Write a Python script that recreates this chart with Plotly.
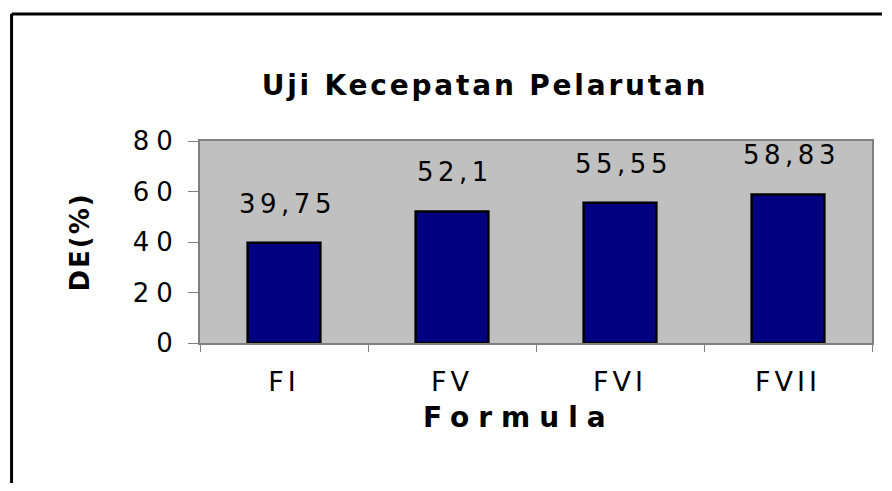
import plotly.graph_objects as go

categories = ["FI", "FV", "FVI", "FVII"]
de_values = [39.75, 52.1, 55.55, 58.83]
value_labels = ["39,75", "52,1", "55,55", "58,83"]
y_ticks = [0, 20, 40, 60, 80]
y_tick_labels = ["0", "20", "40", "60", "80"]

FONT = "DejaVu Sans, Liberation Sans, Arial, sans-serif"

# the page body has an 8px default margin; figure coordinates are laid out for it
W, H = 876, 475
PL, PR, PT, PB = 192, 866, 133, 335
pw, ph = PR - PL, PB - PT


def spaced(txt, px):
    return f'<span style="letter-spacing:{px}px">{txt}</span>'


fig = go.Figure()
fig.add_trace(go.Bar(
    x=categories,
    y=de_values,
    marker=dict(color="#000080", line=dict(color="#000000", width=2.5)),
    hoverinfo="skip",
))

for cat, val, lab in zip(categories, de_values, value_labels):
    fig.add_annotation(
        x=cat, y=val, xref="x", yref="y",
        text=spaced(lab, 4.5), showarrow=False,
        yanchor="bottom", yshift=22, xshift=3,
        font=dict(family=FONT, size=26, color="#000000"),
    )

# x-axis title, placed as in the original (slightly left of centre)
fig.add_annotation(
    x=(512 - PL) / pw, y=(PB - 409) / ph, xref="paper", yref="paper",
    text="<b>" + spaced("Formula", 9) + "</b>", showarrow=False,
    xanchor="center", yanchor="middle",
    font=dict(family=FONT, size=28, color="#000000"),
)

fig.update_layout(
    width=W, height=H,
    margin=dict(l=PL, r=W - PR, t=PT, b=H - PB),
    paper_bgcolor="#ffffff",
    plot_bgcolor="#c0c0c0",
    showlegend=False,
    bargap=0.567,
    title=dict(
        text="<b>" + spaced("Uji Kecepatan Pelarutan", 2.8) + "</b>",
        x=477 / W, xref="container", xanchor="center",
        y=1 - 77 / H, yref="container", yanchor="middle",
        font=dict(family=FONT, size=28, color="#000000"),
    ),
    xaxis=dict(
        type="category",
        categoryorder="array", categoryarray=categories,
        tickmode="array", tickvals=categories,
        ticktext=[spaced(c, 4) for c in categories],
        tickson="boundaries",
        ticks="outside", ticklen=7, tickcolor="#808080", tickwidth=1,
        showline=True, linecolor="#808080", linewidth=2, mirror=True,
        showgrid=False,
        ticklabelstandoff=14,
        tickfont=dict(family=FONT, size=27, color="#000000"),
    ),
    yaxis=dict(
        range=[0, 80],
        tickmode="array", tickvals=y_ticks,
        ticktext=[spaced(t, 7) for t in y_tick_labels],
        ticks="outside", ticklen=10, tickcolor="#808080", tickwidth=1,
        showline=True, linecolor="#808080", linewidth=2, mirror=True,
        showgrid=False, zeroline=False,
        ticklabelstandoff=3,
        tickfont=dict(family=FONT, size=26, color="#000000"),
        title=dict(
            text="<b>" + spaced("DE(%)", 2) + "</b>",
            standoff=36,
            font=dict(family=FONT, size=26, color="#000000"),
        ),
    ),
)

# outer chart frame (top and left edges visible in the original)
x_left = (3 - PL) / pw
x_right = (W - PL) / pw
y_top = (PB - 6) / ph
y_bot = (PB - H) / ph
fig.add_shape(type="line", xref="paper", yref="paper",
              x0=x_left, x1=x_right, y0=y_top, y1=y_top,
              line=dict(color="#000000", width=3))
fig.add_shape(type="line", xref="paper", yref="paper",
              x0=x_left, x1=x_left, y0=y_top, y1=y_bot,
              line=dict(color="#000000", width=3))

fig.write_html("out.html")
